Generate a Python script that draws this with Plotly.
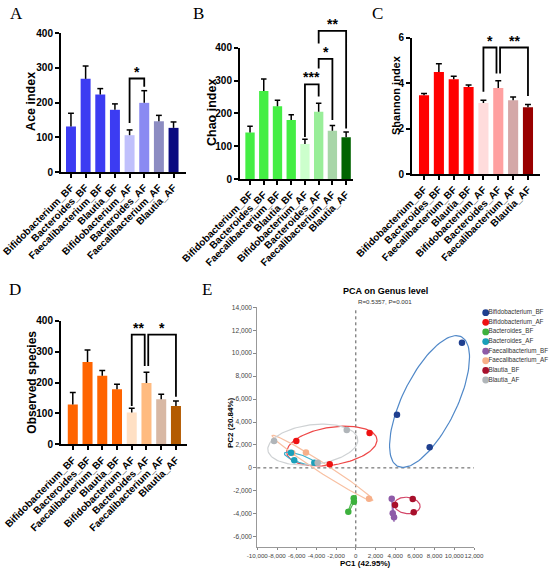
import numpy as np
import plotly.graph_objects as go

groups = ["Bifidobacterium_BF", "Bacteroides_BF", "Faecalibacterium_BF", "Blautia_BF",
          "Bifidobacterium_AF", "Bacteroides_AF", "Faecalibacterium_AF", "Blautia_AF"]

ace_mean = [131, 268, 223, 179, 106, 199, 146, 127]
ace_err = [38, 37, 17, 17, 15, 35, 17, 17]
chao_mean = [142, 268, 222, 180, 107, 205, 147, 127]
chao_err = [19, 37, 18, 16, 14, 26, 16, 16]
shannon_mean = [3.46, 4.48, 4.16, 3.82, 3.12, 3.78, 3.24, 2.93]
shannon_err = [0.08, 0.37, 0.14, 0.09, 0.12, 0.32, 0.14, 0.12]
obs_mean = [129, 266, 222, 178, 103, 198, 146, 124]
obs_err = [39, 39, 17, 16, 14, 35, 16, 16]

# significance brackets: left bar, right bar, top, left leg end, right leg end, label
ace_sig = [(4, 5, 269, 141, 245, "*")]
chao_sig = [(4, 5, 288, 128, 251, "***"), (5, 6, 366, 337, 180, "*"), (5, 7, 451, 413, 154, "**")]
shannon_sig = [(4, 4.88, 5.56, 3.62, 4.42, "*"), (5.12, 7, 5.56, 4.42, 3.43, "**")]
obs_sig = [(4, 4.88, 355, 124, 253, "**"), (5.12, 7, 355, 253, 154, "*")]

ace_colors = ["#3c3cf2"] * 4 + ["#c0c0fc", "#8a8af2", "#8c8cc2", "#0a0a80"]
chao_colors = ["#44ee44"] * 4 + ["#ccffcc", "#99ee99", "#a8d6a8", "#006400"]
shannon_colors = ["#ff0000"] * 4 + ["#ffdcdc", "#ffa0a0", "#d4a8a8", "#990000"]
obs_colors = ["#ff6400"] * 4 + ["#ffe0c4", "#ffbb80", "#d8b8a4", "#b35a00"]

# PCA scores
pca_groups = ["Bifidobacterium_BF", "Bifidobacterium_AF", "Bacteroides_BF", "Bacteroides_AF",
              "Faecalibacterium_BF", "Faecalibacterium_AF", "Blautia_BF", "Blautia_AF"]
pc1 = {
    "Bifidobacterium_BF": [10780, 4180, 7500],
    "Bifidobacterium_AF": [-6040, 1400, -2650],
    "Bacteroides_BF": [-210, -190, -760],
    "Bacteroides_AF": [-6580, -6250, -4210],
    "Faecalibacterium_BF": [3650, 3750, 3880],
    "Faecalibacterium_AF": [-5060, -6450, 1340],
    "Blautia_BF": [3980, 5780, 5880],
    "Blautia_AF": [-8300, -920, -3870],
}
pc2 = {
    "Bifidobacterium_BF": [10920, 4640, 1790],
    "Bifidobacterium_AF": [2340, 3040, 320],
    "Bacteroides_BF": [-2650, -2950, -3820],
    "Bacteroides_AF": [1320, 660, 450],
    "Faecalibacterium_BF": [-2690, -3960, -4310],
    "Faecalibacterium_AF": [1350, 1300, -2690],
    "Blautia_BF": [-3240, -2710, -3870],
    "Blautia_AF": [2340, 3300, 450],
}
point_colors = ["#1f3f8f", "#ee1111", "#3db13d", "#1a9fba", "#8e5ba8", "#f7b08a", "#a8102c", "#b0b5b9"]
ring_colors = ["#5088c8", "#ee4848", "#55bb55", "#40b0cc", "#9b70b5", "#f8c0a2", "#d4486a", "#cfd2d4"]
pc1_ticks = [-10000, -8000, -6000, -4000, -2000, 0, 2000, 4000, 6000, 8000, 10000, 12000]
pc1_labels = ["-10,000", "-8,000", "-6,000", "-4,000", "-2,000", "0", "2,000", "4,000",
              "6,000", "8,000", "10,000", "12,000"]
pc2_ticks = [-6000, -4000, -2000, 0, 2000, 4000, 6000, 8000, 10000, 12000, 14000]
pc2_labels = ["-6,000", "-4,000", "-2,000", "0", "2,000", "4,000", "6,000", "8,000",
              "10,000", "12,000", "14,000"]

W, H = 550, 570
SANS = "Liberation Sans"
SERIF = "Liberation Serif"


def fx(p):
    return p / W


def fy(p):
    return 1 - p / H


def ellipse(xs, ys, k=1.23, n=120):
    pts = np.vstack([xs, ys]).astype(float)
    mu = pts.mean(axis=1)
    vals, vecs = np.linalg.eigh(np.cov(pts))
    t = np.linspace(0, 2 * np.pi, n)
    circ = np.vstack([np.cos(t), np.sin(t)])
    e = vecs @ (np.sqrt(np.maximum(vals, 0))[:, None] * circ) * k + mu[:, None]
    return e[0], e[1]


def label(x, y, text, size, weight="bold", family=SANS, color="black", angle=0):
    return dict(x=fx(x), y=fy(y), xref="paper", yref="paper", text=text, showarrow=False,
                xanchor="center", yanchor="middle", textangle=angle,
                font=dict(family=family, size=size, color=color, weight=weight))


panels = [
    dict(letter="A", mean=ace_mean, err=ace_err, colors=ace_colors, sig=ace_sig, title="Ace index",
         tsize=12.5, ymax=400, dtick=100, px0=61, px1=186, py0=172, py1=33, xr=[-0.68, 7.85],
         tx=30.2, ty=101.7, lx=16.5, ly=14),
    dict(letter="B", mean=chao_mean, err=chao_err, colors=chao_colors, sig=chao_sig, title="Chao index",
         tsize=12.5, ymax=400, dtick=100, px0=240, px1=353, py0=179, py1=47.7, xr=[-0.73, 7.5],
         tx=211.5, ty=112.5, lx=198.5, ly=14),
    dict(letter="C", mean=shannon_mean, err=shannon_err, colors=shannon_colors, sig=shannon_sig,
         title="Shannon index", tsize=11, ymax=6, dtick=2, px0=412, px1=540, py0=174, py1=37.5,
         xr=[-0.81, 7.81], tx=396, ty=95, lx=377.5, ly=14),
    dict(letter="D", mean=obs_mean, err=obs_err, colors=obs_colors, sig=obs_sig, title="Observed species",
         tsize=12, ymax=400, dtick=100, px0=61, px1=187, py0=444.3, py1=320.7, xr=[-0.8, 7.75],
         tx=31.2, ty=382.5, lx=15, ly=289),
]

fig = go.Figure()
annotations = []
layout_axes = {}

for i, p in enumerate(panels, start=1):
    xa = "x" if i == 1 else f"x{i}"
    ya = "y" if i == 1 else f"y{i}"
    sa = f"y{6 + i}"  # taller invisible axis for the significance brackets
    xs = list(range(len(groups)))
    fig.add_trace(go.Bar(x=xs, y=p["mean"], marker=dict(color=p["colors"], line_width=0),
                         width=0.68, xaxis=xa, yaxis=ya, showlegend=False))
    # upper error bars
    ex, ey = [], []
    for j, (m, e) in enumerate(zip(p["mean"], p["err"])):
        ex += [j, j, None, j - 0.2, j + 0.2, None]
        ey += [m, m + e, None, m + e, m + e, None]
    fig.add_trace(go.Scatter(x=ex, y=ey, mode="lines", line=dict(color="black", width=1.5),
                             xaxis=xa, yaxis=ya, showlegend=False, hoverinfo="skip"))
    # brackets
    bx, by = [], []
    for l, r, top, lb, rb, lab in p["sig"]:
        bx += [l, l, r, r, None]
        by += [lb, top, top, rb, None]
        annotations.append(dict(x=(l + r) / 2, y=top, xref=xa, yref=sa, text=lab, showarrow=False,
                                xanchor="center", yanchor="bottom", yshift=-3,
                                font=dict(family=SANS, size=14, color="black", weight="bold")))
    fig.add_trace(go.Scatter(x=bx, y=by, mode="lines", line=dict(color="black", width=1.8),
                             xaxis=xa, yaxis=sa, showlegend=False, hoverinfo="skip"))

    ppu = (p["py0"] - p["py1"]) / p["ymax"]
    ext = (p["py0"] - 1) / ppu
    layout_axes["xaxis" if i == 1 else f"xaxis{i}"] = dict(
        domain=[fx(p["px0"]), fx(p["px1"])], anchor=ya, range=p["xr"], automargin=False,
        tickvals=xs, ticktext=groups, tickangle=-45, ticks="outside", ticklen=4, tickwidth=1.5,
        tickcolor="black", showline=True, linewidth=2, linecolor="black", showgrid=False,
        zeroline=False, tickfont=dict(family=SANS, size=10, color="black", weight="bold"))
    layout_axes["yaxis" if i == 1 else f"yaxis{i}"] = dict(
        domain=[fy(p["py0"]), fy(p["py1"])], anchor=xa, range=[0, p["ymax"]], automargin=False,
        dtick=p["dtick"], tick0=0, ticks="outside", ticklen=4, tickwidth=1.5, tickcolor="black",
        showline=True, linewidth=2, linecolor="black", showgrid=False, zeroline=False,
        tickfont=dict(family=SANS, size=10, color="black", weight="bold"))
    layout_axes[f"yaxis{6 + i}"] = dict(
        domain=[fy(p["py0"]), fy(1)], anchor=xa, range=[0, ext], visible=False, automargin=False)

    annotations.append(label(p["tx"], p["ty"], p["title"], p["tsize"], angle=-90))
    annotations.append(label(p["lx"], p["ly"], p["letter"], 17, weight="normal", family=SERIF))

# PCA panel
for g, pc, rc in zip(pca_groups, point_colors, ring_colors):
    ex_, ey_ = ellipse(pc1[g], pc2[g])
    fig.add_trace(go.Scatter(x=ex_, y=ey_, mode="lines", line=dict(color=rc, width=1.2),
                             xaxis="x5", yaxis="y5", showlegend=False, hoverinfo="skip"))
draw_order = [0, 1, 2, 4, 5, 3, 6, 7]
for k in draw_order:
    g = pca_groups[k]
    fig.add_trace(go.Scatter(x=pc1[g], y=pc2[g], mode="markers", name=g,
                             marker=dict(color=point_colors[k], size=6.5),
                             xaxis="x5", yaxis="y5", showlegend=False))

layout_axes["xaxis5"] = dict(
    domain=[fx(257.3), fx(474)], anchor="y5", range=[-10000, 12000], tickvals=pc1_ticks,
    ticktext=pc1_labels, tickangle=0, ticks="outside", ticklen=2, tickwidth=1, tickcolor="#888",
    showline=True, linewidth=1, linecolor="#999", showgrid=False, zeroline=False, automargin=False,
    tickfont=dict(family=SANS, size=6.2, color="#444"))
layout_axes["yaxis5"] = dict(
    domain=[fy(547.3), fy(307.3)], anchor="x5", range=[-6924, 14000], tickvals=pc2_ticks,
    ticktext=pc2_labels, ticks="outside", ticklen=3, tickwidth=1, tickcolor="#888",
    showline=True, linewidth=1, linecolor="#999", showgrid=False, zeroline=False, automargin=False,
    tickfont=dict(family=SANS, size=6.6, color="#444"))

shapes = [
    dict(type="line", xref="x5", yref="y5 domain", x0=0, x1=0, y0=0, y1=1,
         line=dict(color="#555", width=1, dash="dot"), layer="below"),
    dict(type="line", xref="x5 domain", yref="y5", x0=0, x1=1, y0=0, y1=0,
         line=dict(color="#555", width=1, dash="dot"), layer="below"),
]

# manual legend
idx = list(range(len(pca_groups)))
fig.add_trace(go.Scatter(x=[5.7] * len(idx), y=idx, mode="markers",
                         marker=dict(color=point_colors, size=6.8), xaxis="x6", yaxis="y6",
                         showlegend=False, cliponaxis=False, hoverinfo="skip"))
fig.add_trace(go.Scatter(x=[8.5] * len(idx), y=idx, mode="text", text=pca_groups,
                         textposition="middle right",
                         textfont=dict(family=SANS, size=6.3, color="#333"),
                         xaxis="x6", yaxis="y6", showlegend=False, cliponaxis=False, hoverinfo="skip"))
layout_axes["xaxis6"] = dict(domain=[fx(480), fx(550)], anchor="y6", range=[0, 70], visible=False,
                             automargin=False)
layout_axes["yaxis6"] = dict(domain=[fy(384.8), fy(307.9)], anchor="x6", range=[7.5, -0.5], visible=False,
                             automargin=False)

annotations += [
    label(385, 290.7, "PCA on Genus level", 9),
    label(385, 301, "R=0.5357, P=0.001", 6.2, weight="normal", color="#333"),
    label(365.6, 563.5, "PC1 (42.95%)", 8),
    label(230, 422, "PC2 (20.84%)", 8, angle=-90),
    label(207, 289, "E", 17, weight="normal", family=SERIF),
]

fig.update_layout(
    width=W, height=H, margin=dict(l=0, r=0, t=0, b=0, autoexpand=False),
    paper_bgcolor="white", plot_bgcolor="rgba(0,0,0,0)",
    annotations=annotations, shapes=shapes, showlegend=False,
    **layout_axes,
)

fig.write_html("out.html", config={"displayModeBar": False},
               post_script="document.body.style.margin='0px';")
